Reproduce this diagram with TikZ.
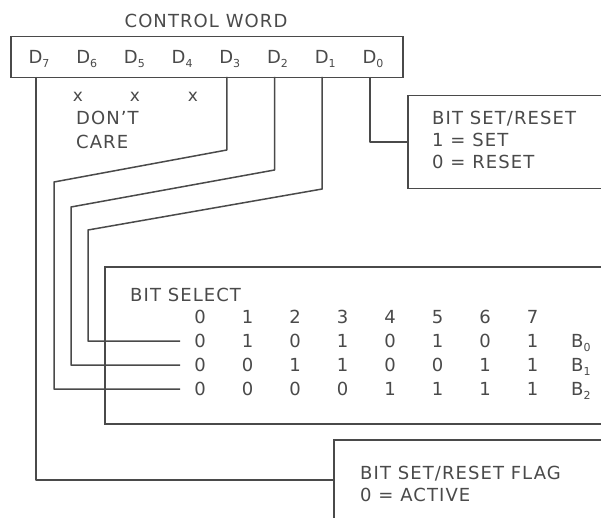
\documentclass[tikz,border=0pt]{standalone}
\usepackage{fontspec}
\setmainfont{DejaVu Sans}[LetterSpace=6]
\definecolor{ink}{HTML}{4A4A4A}
\newcommand{\bsub}[1]{\raisebox{-4pt}{\fontsize{11}{11}\selectfont #1}}
\begin{document}
\begin{tikzpicture}[x=1pt,y=-1pt,color=ink,
  boxstyle/.style={draw,line width=1.5pt,inner sep=0pt,anchor=north west},
  txt/.style={inner sep=0pt,text height=13.1pt,text depth=0pt,font=\fontsize{18}{20}\selectfont},
  wire/.style={line width=1.5pt,line join=round}]
\useasboundingbox (0,0) rectangle (601,518);
\clip (0,0) rectangle (601,518);
\fill[white] (0,0) rectangle (601,518);
% boxes
\node[boxstyle,minimum width=392pt,minimum height=41pt] (cw) at (10,36) {};
\node[boxstyle,minimum width=230pt,minimum height=93pt] (rs) at (407,95) {};
\node[boxstyle,minimum width=530pt,minimum height=157pt] (bs) at (104,266) {};
\node[boxstyle,minimum width=300pt,minimum height=120pt] (fl) at (333,439) {};
% title
\node[txt] (title) at (206,21) {CONTROL WORD};
% bit labels
\foreach \i/\xx in {7/36,6/83.7,5/131.4,4/179.1,3/226.8,2/274.5,1/322.2,0/370} {
  \node[txt] (d\i) at (\xx+3,57) {D\bsub{\i}};
  \coordinate (t\i) at (\xx,77);
}
% don't care marks
\node[inner sep=0pt,font=\fontsize{17}{20}\selectfont] (x6) at (78,97) {x};
\node[inner sep=0pt,font=\fontsize{17}{20}\selectfont] (x5) at (135,97) {x};
\node[inner sep=0pt,font=\fontsize{17}{20}\selectfont] (x4) at (193,97) {x};
\node[txt,anchor=west] (dc1) at (76,118) {DON’T};
\node[txt,anchor=west] (dc2) at (76,142) {CARE};
% bit set/reset box text
\node[txt,anchor=west] (rs1) at (432,118) {BIT SET/RESET};
\node[txt,anchor=west] (rs2) at (432,140) {1 = SET};
\node[txt,anchor=west] (rs3) at (432,162) {0 = RESET};
% bit select
\node[txt,anchor=west] (bsl) at (130,295) {BIT SELECT};
\foreach \c in {0,...,7} {
  \node[txt] (h\c) at (200+47.5*\c,317) {\c};
}
\foreach \r/\yy/\vals in {0/341/{0,1,0,1,0,1,0,1},1/365/{0,0,1,1,0,0,1,1},2/389/{0,0,0,0,1,1,1,1}} {
  \foreach \v [count=\k from 0] in \vals {
    \node[txt] (c\r\k) at (200+47.5*\k,\yy) {\v};
  }
  \node[txt,anchor=west] (b\r) at (571,\yy) {B\bsub{\r}};
}
% flag text
\node[txt,anchor=west] (fl1) at (360,473) {BIT SET/RESET FLAG};
\node[txt,anchor=west] (fl2) at (360,495) {0 = ACTIVE};
% connectors
\coordinate (f7) at (333,480);
\draw[wire] (t0) |- (rs.west);
\draw[wire] (t1) -- (322.2,189) -- (88,230) -- (88,341) -- ([xshift=-14pt]c00.west);
\draw[wire] (t2) -- (274.5,170) -- (71,207) -- (71,365) -- ([xshift=-14pt]c10.west);
\draw[wire] (t3) -- (226.8,150) -- (54,182) -- (54,389) -- ([xshift=-14pt]c20.west);
\draw[wire] (t7) |- (f7);
\end{tikzpicture}
\end{document}
